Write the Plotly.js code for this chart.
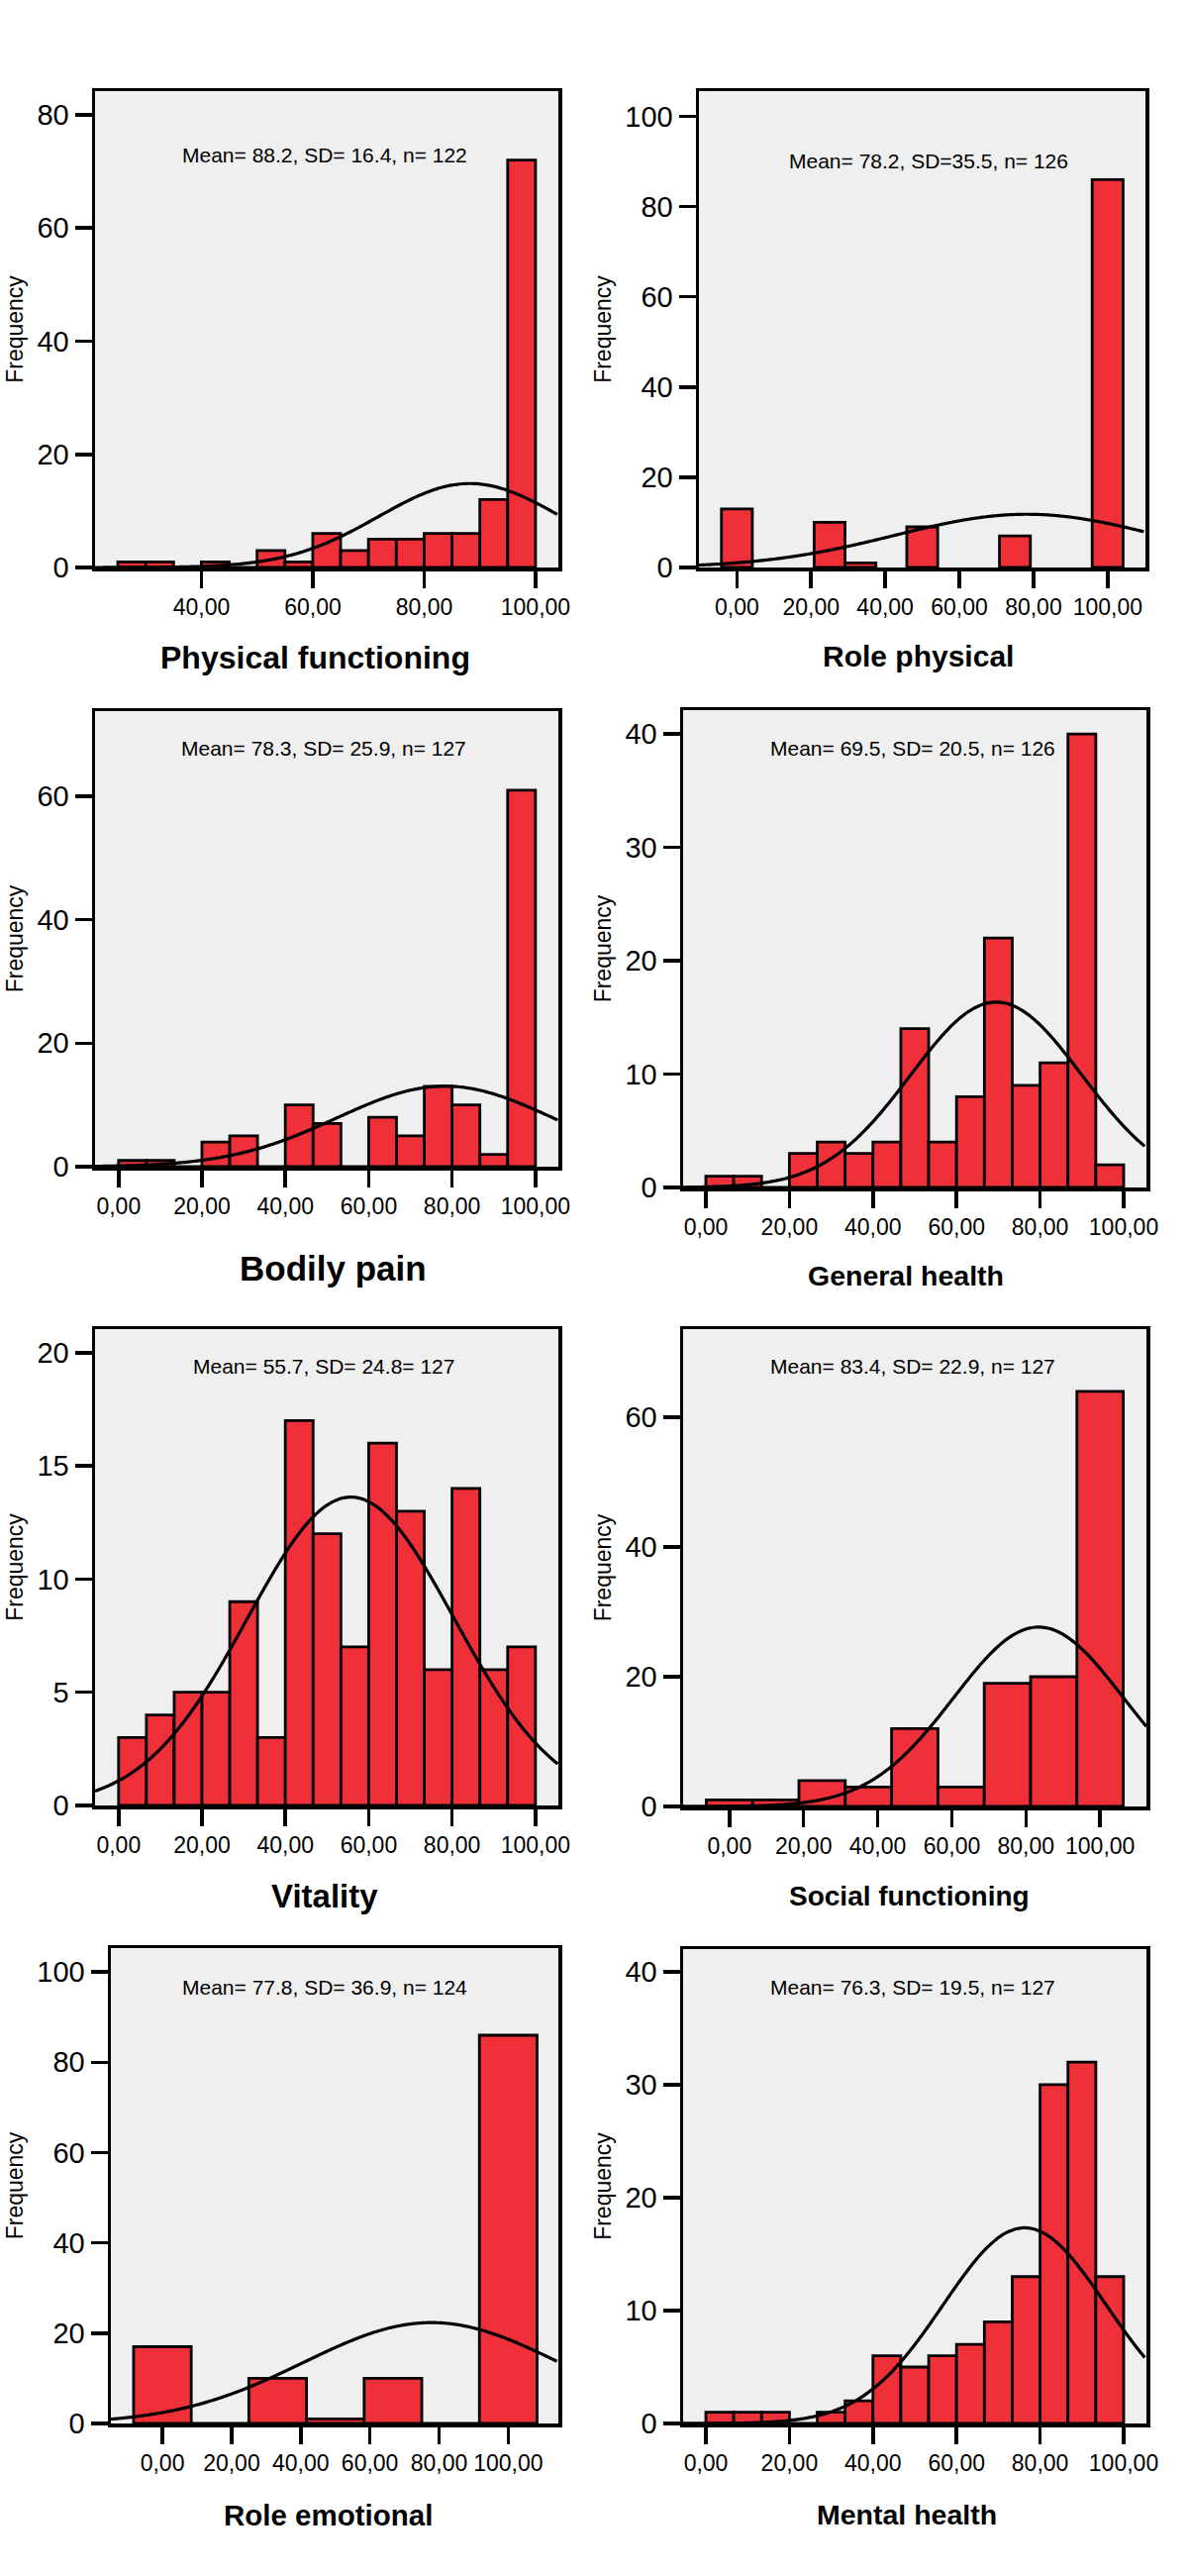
<!DOCTYPE html>
<html>
<head>
<meta charset="utf-8">
<script src="https://cdn.plot.ly/plotly-3.0.1.min.js"></script>
<style>
  html, body { margin: 0; padding: 0; background: #fff; }
  #chart { width: 1200px; height: 2601px; }
</style>
</head>
<body>
<div id="chart"></div>
<script>
// scale names and summary stats, one entry per panel
const scaleNames = ["Physical functioning", "Role physical", "Bodily pain", "General health",
  "Vitality", "Social functioning", "Role emotional", "Mental health"];
const statLabels = [
  "Mean= 88.2, SD= 16.4, n= 122",
  "Mean= 78.2, SD=35.5, n= 126",
  "Mean= 78.3, SD= 25.9, n= 127",
  "Mean= 69.5, SD= 20.5, n= 126",
  "Mean= 55.7, SD= 24.8= 127",
  "Mean= 83.4, SD= 22.9, n= 127",
  "Mean= 77.8, SD= 36.9, n= 124",
  "Mean= 76.3, SD= 19.5, n= 127",
];
const means = [88.2, 78.2, 78.3, 69.5, 55.7, 83.4, 77.8, 76.3];
const sds = [16.4, 35.5, 25.9, 20.5, 24.8, 22.9, 36.9, 19.5];
const ns = [122, 126, 127, 126, 127, 127, 124, 127];
const binWidths = [5, 8.333, 6.667, 6.667, 6.667, 12.5, 16.667, 6.667];

// bin centres
const pfBins = [27.5, 32.5, 37.5, 42.5, 47.5, 52.5, 57.5, 62.5, 67.5, 72.5, 77.5, 82.5, 87.5, 92.5, 97.5];
const rpBins = [0, 25, 33.33, 50, 75, 100];
const bins15 = [3.33, 10, 16.67, 23.33, 30, 36.67, 43.33, 50, 56.67, 63.33, 70, 76.67, 83.33, 90, 96.67];
const sfBins = [0, 12.5, 25, 37.5, 50, 62.5, 75, 87.5, 100];
const reBins = [0, 16.67, 33.33, 50, 66.67, 83.33, 100];

// frequencies
const pfCounts = [1, 1, 0, 1, 0, 3, 1, 6, 3, 5, 5, 6, 6, 12, 72];
const rpCounts = [13, 10, 1, 9, 7, 86];
const bpCounts = [1, 1, 0, 4, 5, 0, 10, 7, 0, 8, 5, 13, 10, 2, 61];
const ghCounts = [1, 1, 0, 3, 4, 3, 4, 14, 4, 8, 22, 9, 11, 40, 2];
const vtCounts = [3, 4, 5, 5, 9, 3, 17, 12, 7, 16, 13, 6, 14, 6, 7];
const sfCounts = [1, 1, 4, 3, 12, 3, 19, 20, 64];
const reCounts = [17, 0, 10, 1, 10, 0, 86];
const mhCounts = [1, 1, 1, 0, 1, 2, 6, 5, 6, 7, 9, 13, 30, 32, 13];

// tick labels
const xTicks = [0, 20, 40, 60, 80, 100];
const xTickText = ["0,00", "20,00", "40,00", "60,00", "80,00", "100,00"];

const binsList = [pfBins, rpBins, bins15, bins15, bins15, sfBins, reBins, bins15];
const countsList = [pfCounts, rpCounts, bpCounts, ghCounts, vtCounts, sfCounts, reCounts, mhCounts];

// layout (pixels): frame [left, right, top, bottom], axis ranges, label spots
const W = 1200, H = 2601;
const frames = [
  [96, 564, 92, 573], [706, 1157, 92, 573],
  [96, 564, 718, 1178], [690, 1158, 717, 1199],
  [96, 564, 1342, 1823], [690, 1158, 1342, 1824],
  [112, 564, 1967, 2447], [690, 1158, 1968, 2447],
];
const xRanges = [[20.9, 104.1], [-10.24, 110.2], [-5.65, 105.5], [-5.45, 105.45],
  [-5.65, 105.5], [-12.5, 112.5], [-14.9, 114.5], [-5.45, 105.45]];
const yRanges = [[0, 84.2], [0, 105.6], [0, 73.8], [0, 42.1], [0, 21.04], [0, 73.6], [0, 105.3], [0, 42]];
const yDticks = [20, 20, 20, 10, 5, 20, 20, 10];
const statPos = [[328, 157], [938, 163], [327, 755], [922, 755], [327, 1380], [922, 1380], [328, 2006], [922, 2006]];
const titlePos = [[318, 664], [927, 662], [336, 1280], [915, 1288], [328, 1914], [918, 1914], [331, 2539], [916, 2539]];
const titleSizes = [32, 30, 35, 28.5, 33, 28, 29.5, 28.5];

const FONT = '"Liberation Sans", Arial, Helvetica, sans-serif';

const data = [];
const layout = {
  width: W,
  height: H,
  margin: { l: 0, r: 0, t: 0, b: 0 },
  paper_bgcolor: "#ffffff",
  plot_bgcolor: "#efefef",
  showlegend: false,
  annotations: [],
};

scaleNames.forEach((name, i) => {
  const suf = i === 0 ? "" : String(i + 1);
  const f = frames[i];
  const xr = xRanges[i];

  data.push({
    type: "bar",
    x: binsList[i],
    y: countsList[i],
    width: binWidths[i],
    xaxis: "x" + suf,
    yaxis: "y" + suf,
    marker: { color: "#ef3039", line: { color: "#000", width: 2.8 } },
    hoverinfo: "skip",
  });

  // fitted normal curve from the stated mean, SD and n
  const cx = [], cy = [];
  const peak = (ns[i] * binWidths[i]) / (sds[i] * Math.sqrt(2 * Math.PI));
  for (let x = xr[0]; x <= xr[1] + 0.01; x += 0.5) {
    const z = (x - means[i]) / sds[i];
    cx.push(x);
    cy.push(peak * Math.exp(-0.5 * z * z));
  }
  data.push({
    type: "scatter",
    mode: "lines",
    x: cx,
    y: cy,
    xaxis: "x" + suf,
    yaxis: "y" + suf,
    line: { color: "#000", width: 3.2, shape: "spline" },
    hoverinfo: "skip",
  });

  const vals = i === 0 ? xTicks.slice(2) : xTicks;
  const txt = i === 0 ? xTickText.slice(2) : xTickText;

  layout["xaxis" + suf] = {
    domain: [f[0] / W, f[1] / W],
    range: xr,
    anchor: "y" + suf,
    tickvals: vals,
    ticktext: txt,
    tickangle: 0,
    ticks: "outside",
    ticklen: 17,
    tickwidth: 3.5,
    tickcolor: "#000",
    showline: true,
    mirror: true,
    linecolor: "#000",
    linewidth: 3.5,
    showgrid: false,
    zeroline: false,
    tickfont: { family: FONT, size: 23, color: "#000" },
  };
  layout["yaxis" + suf] = {
    domain: [1 - f[3] / H, 1 - f[2] / H],
    range: yRanges[i],
    anchor: "x" + suf,
    tick0: 0,
    dtick: yDticks[i],
    ticks: "outside",
    ticklen: 17,
    tickwidth: 3.5,
    tickcolor: "#000",
    showline: true,
    mirror: true,
    linecolor: "#000",
    linewidth: 3.5,
    showgrid: false,
    zeroline: false,
    tickfont: { family: FONT, size: 29, color: "#000" },
    title: {
      text: "Frequency",
      font: { family: FONT, size: 23, color: "#000" },
      standoff: 8,
    },
  };

  layout.annotations.push({
    xref: "paper", yref: "paper",
    x: statPos[i][0] / W, y: 1 - statPos[i][1] / H,
    xanchor: "center", yanchor: "middle",
    text: statLabels[i],
    showarrow: false,
    font: { family: FONT, size: 21, color: "#000" },
  });
  layout.annotations.push({
    xref: "paper", yref: "paper",
    x: titlePos[i][0] / W, y: 1 - titlePos[i][1] / H,
    xanchor: "center", yanchor: "middle",
    text: "<b>" + name + "</b>",
    showarrow: false,
    font: { family: FONT, size: titleSizes[i], color: "#000" },
  });
});

Plotly.newPlot("chart", data, layout, { displayModeBar: false, staticPlot: true });
</script>
</body>
</html>
